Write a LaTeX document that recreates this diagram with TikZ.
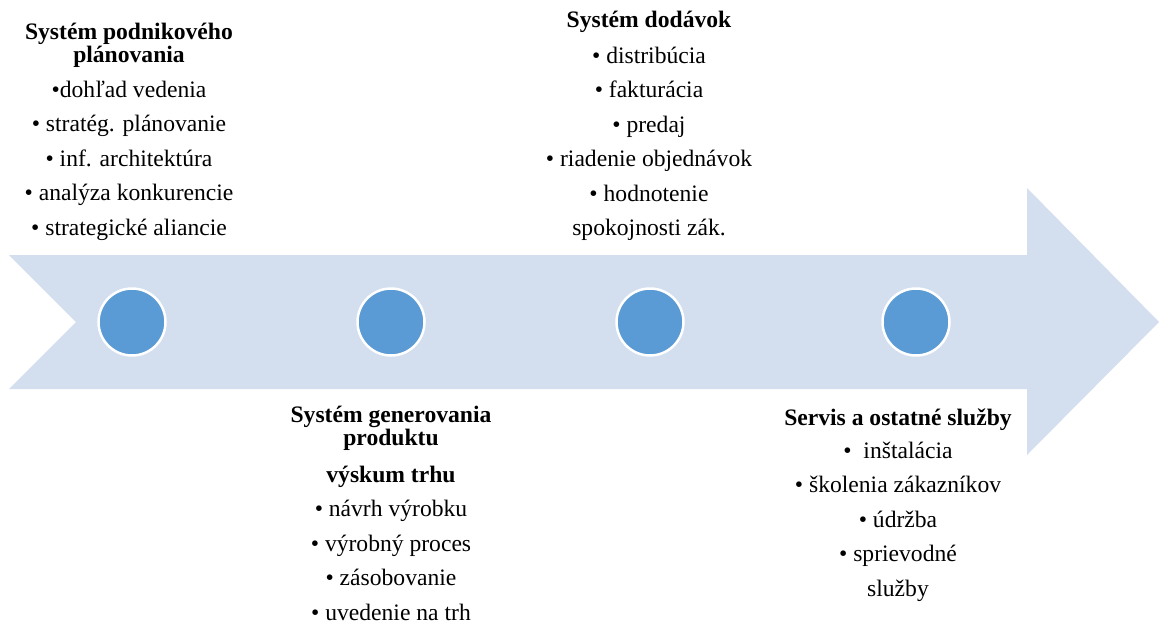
\documentclass[tikz,border=0pt]{standalone}
\usepackage{fontspec}
\setmainfont{Liberation Serif}
\definecolor{arrowfill}{RGB}{211,222,239}
\definecolor{dotfill}{RGB}{91,155,213}
\tikzset{
  block/.style={anchor=base, inner sep=0pt, font=\fontsize{23.6}{34.5}\selectfont},
  dot/.style={circle, fill=dotfill, draw=white, line width=2.5pt, minimum size=67pt, inner sep=0pt}
}
\begin{document}
\begin{tikzpicture}[x=1pt,y=-1pt]
\useasboundingbox (0,0) rectangle (1159,624);
% big arrow
\fill[arrowfill] (9,255) -- (1027,255) -- (1027,188) -- (1159,322) -- (1027,455) -- (1027,389) -- (9,389) -- (76,322) -- cycle;
% dots
\node[dot] (d1) at (132,322) {};
\node[dot] (d2) at (391,322) {};
\node[dot] (d3) at (650,322) {};
\node[dot] (d4) at (916,322) {};
% text blocks
\node[block] (plan) at (129,39) {\begin{tabular}[t]{@{}c@{}}\textbf{Systém podnikového}\\[-11.5pt]\textbf{plánovania}\\[0.5pt]
•dohľad vedenia\\ • stratég. plánovanie\\ • inf. architektúra\\ • analýza konkurencie\\ • strategické aliancie\end{tabular}};
\node[block] (dod) at (649,27) {\begin{tabular}[t]{@{}c@{}}\textbf{Systém dodávok}\\[1.5pt]
• distribúcia\\ • fakturácia\\ • predaj\\ • riadenie objednávok\\ • hodnotenie\\ spokojnosti zák.\end{tabular}};
\node[block] (gen) at (391,422) {\begin{tabular}[t]{@{}c@{}}\textbf{Systém generovania}\\[-11.5pt]\textbf{produktu}\\[2.5pt]
\textbf{výskum trhu}\\ • návrh výrobku\\ • výrobný proces\\ • zásobovanie\\ • uvedenie na trh\end{tabular}};
\node[block] (serv) at (898,425) {\begin{tabular}[t]{@{}c@{}}\textbf{Servis a ostatné služby}\\[-1.5pt]
•\ \ inštalácia\\ • školenia zákazníkov\\ • údržba\\ • sprievodné\\ služby\end{tabular}};
\end{tikzpicture}
\end{document}
